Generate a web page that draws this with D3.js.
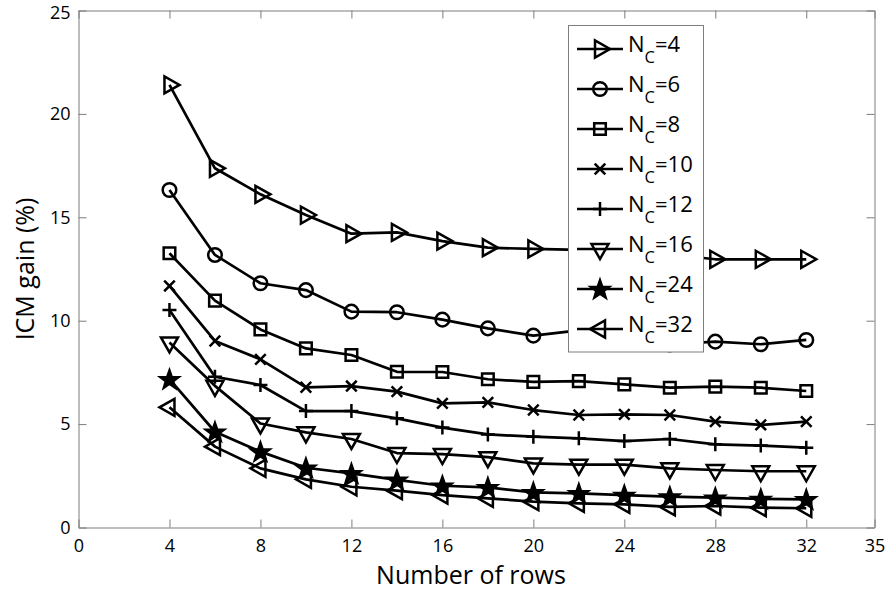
<!DOCTYPE html>
<html>
<head>
<meta charset="utf-8">
<script src="https://cdn.jsdelivr.net/npm/d3@7"></script>
<style>
  html, body { margin: 0; padding: 0; background: #fff; }
  svg { display: block; }
  text { font-family: "Open Sans", "DejaVu Sans", sans-serif; fill: #000; }
</style>
</head>
<body>
<svg id="chart" width="886" height="591"></svg>
<script>
// Number of rows (x) and ICM gain in percent for each column count N_C
const rows = [4, 6, 8, 10, 12, 14, 16, 18, 20, 22, 24, 26, 28, 30, 32];
const nc4  = [21.4, 17.37, 16.11, 15.11, 14.21, 14.27, 13.85, 13.53, 13.47, 13.42, 13.3, 13.2, 12.97, 12.97, 12.97];
const nc6  = [16.32, 13.18, 11.81, 11.48, 10.44, 10.41, 10.05, 9.63, 9.28, 9.53, 9.25, 8.85, 8.99, 8.86, 9.07];
const nc8  = [13.26, 10.97, 9.58, 8.66, 8.34, 7.53, 7.52, 7.17, 7.04, 7.08, 6.92, 6.76, 6.81, 6.76, 6.6];
const nc10 = [11.68, 9.02, 8.13, 6.78, 6.84, 6.57, 6.0, 6.05, 5.68, 5.44, 5.47, 5.44, 5.12, 4.96, 5.12];
const nc12 = [10.52, 7.29, 6.89, 5.63, 5.63, 5.28, 4.83, 4.5, 4.39, 4.31, 4.18, 4.28, 4.02, 3.96, 3.86];
const nc16 = [8.95, 6.85, 5.03, 4.6, 4.28, 3.6, 3.55, 3.4, 3.1, 3.04, 3.04, 2.86, 2.78, 2.72, 2.72];
const nc24 = [7.17, 4.63, 3.67, 2.89, 2.62, 2.3, 2.02, 1.94, 1.7, 1.65, 1.57, 1.49, 1.44, 1.38, 1.36];
const nc32 = [5.81, 3.91, 2.86, 2.33, 1.97, 1.78, 1.57, 1.41, 1.25, 1.17, 1.12, 1.0, 1.04, 0.96, 0.93];

const seriesLabels = ["4", "6", "8", "10", "12", "16", "24", "32"];
const seriesValues = [nc4, nc6, nc8, nc10, nc12, nc16, nc24, nc32];
const seriesMarkers = ["triRight", "circle", "square", "cross", "plus", "triDown", "star", "triLeft"];

const xTicks = [0, 4, 8, 12, 16, 20, 24, 28, 32, 35];
const yTicks = [0, 5, 10, 15, 20, 25];
const xTitle = "Number of rows";
const yTitle = "ICM gain (%)";

const svg = d3.select("#chart");
const plotLeft = 78.5, plotRight = 874.5, plotTop = 10.5, plotBottom = 527.5;
const x = d3.scaleLinear().domain([0, 35]).range([plotLeft, plotRight]);
const y = d3.scaleLinear().domain([0, 25]).range([plotBottom, plotTop]);

const axisColor = "#7d7d7d";
const lineWidth = 2.7;
const markerWidth = 2.5;

// axes box with inward ticks on all four sides
const gx = svg.append("g").attr("transform", `translate(0,${plotBottom})`)
  .call(d3.axisBottom(x).tickValues(xTicks).tickFormat(d3.format("d"))
    .tickSizeInner(-8).tickSizeOuter(0).tickPadding(11.5));
const gxTop = svg.append("g").attr("transform", `translate(0,${plotTop})`)
  .call(d3.axisTop(x).tickValues(xTicks).tickFormat("").tickSizeInner(-8).tickSizeOuter(0));
const gy = svg.append("g").attr("transform", `translate(${plotLeft},0)`)
  .call(d3.axisLeft(y).tickValues(yTicks).tickSizeInner(-8).tickSizeOuter(0).tickPadding(8));
const gyRight = svg.append("g").attr("transform", `translate(${plotRight},0)`)
  .call(d3.axisRight(y).tickValues(yTicks).tickFormat("").tickSizeInner(-8).tickSizeOuter(0));

[gx, gxTop, gy, gyRight].forEach(g => {
  g.select(".domain").attr("stroke", axisColor).attr("stroke-width", 1);
  g.selectAll(".tick line").attr("stroke", axisColor).attr("stroke-width", 1);
  g.selectAll(".tick text").attr("font-size", 18).attr("fill", "#000")
    .style("font-family", '"Open Sans", sans-serif');
});
// keep the top y label inside the page
gy.selectAll(".tick text").filter(d => d === 25).attr("dy", "0.42em");

svg.append("text").attr("x", 471).attr("y", 583.5).attr("text-anchor", "middle")
  .attr("font-size", 25).text(xTitle);
svg.append("text").attr("transform", `translate(34,${(plotTop + plotBottom) / 2}) rotate(-90)`)
  .attr("text-anchor", "middle").attr("font-size", 25).text(yTitle);

// marker shapes, centred on the data point
function markerPath(kind) {
  switch (kind) {
    case "triRight": return "M-5,-8.5L-5,8.5L10,0Z";
    case "triLeft": return "M5,-8.5L5,8.5L-10,0Z";
    case "triDown": return "M-8.5,-5L8.5,-5L0,10Z";
    case "circle": return "M6.8,0A6.8,6.8 0 1,1 -6.8,0A6.8,6.8 0 1,1 6.8,0Z";
    case "square": return "M-5.8,-5.8L5.8,-5.8L5.8,5.8L-5.8,5.8Z";
    case "cross": return "M-5.3,-5.3L5.3,5.3M-5.3,5.3L5.3,-5.3";
    case "plus": return "M-7,0L7,0M0,-7L0,7";
    case "star": {
      const pts = [];
      for (let i = 0; i < 10; i++) {
        const r = i % 2 === 0 ? 9.5 : 3.8;
        const a = -Math.PI / 2 + i * Math.PI / 5;
        pts.push([r * Math.cos(a), r * Math.sin(a) + 0.8]);
      }
      return "M" + pts.map(p => p[0].toFixed(2) + "," + p[1].toFixed(2)).join("L") + "Z";
    }
  }
}

function drawMarker(g, kind, cx, cy) {
  g.append("path").attr("d", markerPath(kind))
    .attr("transform", `translate(${cx},${cy})`)
    .attr("fill", kind === "star" ? "#000" : "none")
    .attr("stroke", "#000").attr("stroke-width", markerWidth)
    .attr("stroke-linejoin", "miter");
}

const line = d3.line().x(d => x(d[0])).y(d => y(d[1]));

seriesValues.forEach((vals, i) => {
  const pts = rows.map((r, j) => [r, vals[j]]);
  const g = svg.append("g");
  g.append("path").datum(pts).attr("d", line)
    .attr("fill", "none").attr("stroke", "#000").attr("stroke-width", lineWidth)
    .attr("stroke-linejoin", "round");
  pts.forEach(p => drawMarker(g, seriesMarkers[i], x(p[0]), y(p[1])));
});

// legend
const lg = svg.append("g");
lg.append("rect").attr("x", 568.5).attr("y", 25.5).attr("width", 135).attr("height", 326.5)
  .attr("fill", "#fff").attr("stroke", axisColor).attr("stroke-width", 1);
seriesLabels.forEach((lab, i) => {
  const cy = 49 + i * 40;
  lg.append("line").attr("x1", 577).attr("x2", 623).attr("y1", cy).attr("y2", cy)
    .attr("stroke", "#000").attr("stroke-width", lineWidth);
  drawMarker(lg, seriesMarkers[i], 600, cy);
  const t = lg.append("text").attr("x", 628).attr("y", cy + 3).attr("font-size", 22);
  t.append("tspan").text("N");
  t.append("tspan").attr("dy", 11).attr("font-size", 16.5).text("C");
  t.append("tspan").attr("dy", -11).text("=" + lab);
});
</script>
</body>
</html>
